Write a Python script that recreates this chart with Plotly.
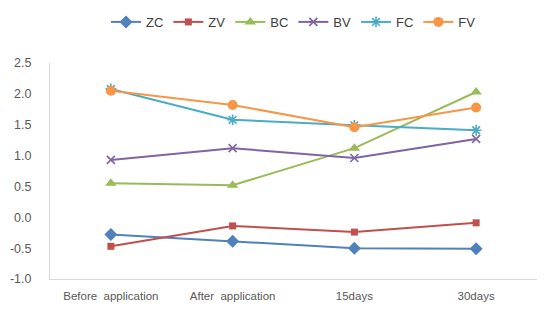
import plotly.graph_objects as go

categories = ["Before  application", "After  application", "15days", "30days"]
ZC = [-0.28, -0.39, -0.50, -0.51]
ZV = [-0.47, -0.14, -0.24, -0.09]
BC = [0.55, 0.52, 1.12, 2.03]
BV = [0.93, 1.12, 0.96, 1.27]
FC = [2.08, 1.58, 1.49, 1.41]
FV = [2.05, 1.82, 1.46, 1.78]
tick_vals = [-1.0, -0.5, 0.0, 0.5, 1.0, 1.5, 2.0, 2.5]
tick_text = ["-1.0", "-0.5", "0.0", "0.5", "1.0", "1.5", "2.0", "2.5"]

series = [
    ("ZC", ZC, "#4F81BD", dict(symbol="diamond", size=10)),
    ("ZV", ZV, "#C0504D", dict(symbol="square", size=7)),
    ("BC", BC, "#9BBB59", dict(symbol="triangle-up", size=10)),
    ("BV", BV, "#8064A2", dict(symbol="x-thin-open", size=8, line=dict(width=1.6, color="#8064A2"))),
    ("FC", FC, "#4BACC6", dict(symbol="asterisk-open", size=9, line=dict(width=1.6, color="#4BACC6"))),
    ("FV", FV, "#F79646", dict(symbol="circle", size=10)),
]

fig = go.Figure()
for name, vals, color, mk in series:
    fig.add_trace(go.Scatter(
        x=categories, y=vals, name=name, mode="lines+markers",
        line=dict(color=color, width=2),
        marker=dict(color=color, **mk),
    ))

fig.update_layout(
    width=555, height=316,
    margin=dict(l=50, r=18, t=63, b=37, autoexpand=False),
    paper_bgcolor="white", plot_bgcolor="white",
    font=dict(family="Liberation Sans, Arial, sans-serif", color="#595959"),
    showlegend=True,
    legend=dict(orientation="h", x=0.5, xanchor="center", y=1.19, yanchor="middle",
                font=dict(size=13, color="#404040"), itemwidth=30, tracegroupgap=0),
    xaxis=dict(type="category", range=[-0.5, 3.5], showgrid=False, showline=True,
               linecolor="#D9D9D9", linewidth=1, ticks="", tickfont=dict(size=11.5),
               zeroline=False, ticklabelstandoff=6, automargin=False),
    yaxis=dict(range=[-1.0, 2.5], tickvals=tick_vals, ticktext=tick_text,
               showgrid=False, showline=True, linecolor="#D9D9D9", linewidth=1,
               ticks="", tickfont=dict(size=12.5), zeroline=False, ticklabelstandoff=15,
               automargin=False),
)

fig.write_html("out.html")
